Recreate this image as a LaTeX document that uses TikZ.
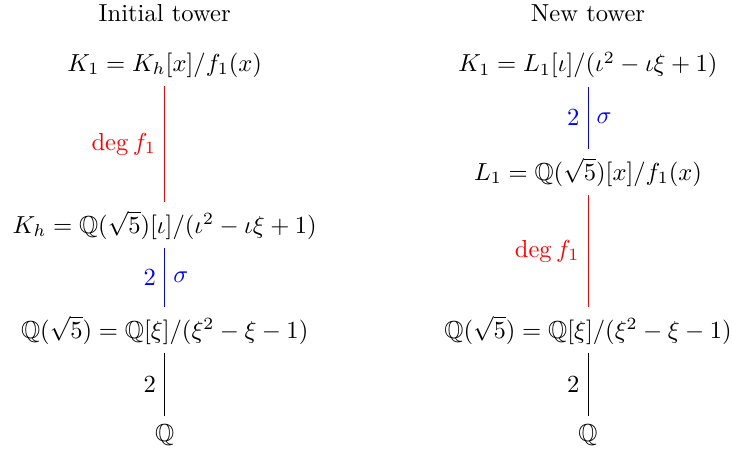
\documentclass[tikz,border=0pt]{standalone}
\usepackage{amssymb}
\begin{document}
\begin{tikzpicture}[x=0.4065pt,y=-0.4065pt,
  fld/.style={inner sep=3.33pt},
  ttl/.style={inner sep=2pt},
  ext/.style={line width=0.4pt},
  lb/.style={inner sep=3.33pt}]
\useasboundingbox (0,0) rectangle (732,450);
% left tower
\node[ttl] (t1) at (164.7,13) {Initial tower};
\node[fld] (a1) at (164.7,65) {$K_1 = K_h[x]/f_1(x)$};
\node[fld] (a2) at (164.7,225) {$K_h = \mathbb{Q}(\sqrt{5})[\iota]/(\iota^2 - \iota\xi + 1)$};
\node[fld] (a3) at (164.7,330) {$\mathbb{Q}(\sqrt{5}) = \mathbb{Q}[\xi]/(\xi^2 - \xi - 1)$};
\node[fld] (a4) at (164.7,435) {$\mathbb{Q}$};
\draw[ext,red] (a1) -- node[lb,left]{$\deg f_1$} (a2);
\draw[ext,blue] (a2) -- node[lb,left]{$2$} node[lb,right]{$\sigma$} (a3);
\draw[ext] (a3) -- node[lb,left]{$2$} (a4);
% right tower
\node[ttl] (t2) at (588,13) {New tower};
\node[fld] (b1) at (588,65) {$K_1 = L_1[\iota]/(\iota^2 - \iota\xi + 1)$};
\node[fld] (b2) at (588,172) {$L_1 = \mathbb{Q}(\sqrt{5})[x]/f_1(x)$};
\node[fld] (b3) at (588,330) {$\mathbb{Q}(\sqrt{5}) = \mathbb{Q}[\xi]/(\xi^2 - \xi - 1)$};
\node[fld] (b4) at (588,435) {$\mathbb{Q}$};
\draw[ext,blue] (b1) -- node[lb,left]{$2$} node[lb,right]{$\sigma$} (b2);
\draw[ext,red] (b2) -- node[lb,left]{$\deg f_1$} (b3);
\draw[ext] (b3) -- node[lb,left]{$2$} (b4);
\end{tikzpicture}
\end{document}
